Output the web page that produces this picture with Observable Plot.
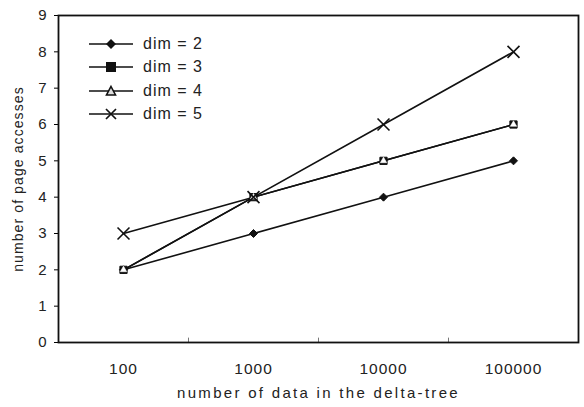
<!DOCTYPE html>
<html><head><meta charset="utf-8">
<script src="https://cdn.jsdelivr.net/npm/d3@7"></script>
<script src="https://cdn.jsdelivr.net/npm/@observablehq/plot@0.6"></script>
<style>
body{margin:0;background:#fff;font-family:"Liberation Sans",Arial,sans-serif;}
#wrap{position:relative;width:584px;height:407px;}
#legend{position:absolute;left:89px;top:32px;font-size:16px;letter-spacing:1px;color:#222;z-index:2;}
#legend .row{display:flex;align-items:center;height:23.5px;}
#legend svg{margin-right:10px;}
g[aria-label="x-axis tick label"] text{letter-spacing:1px;}
g.xtitle text{letter-spacing:2.3px;}
g.ytitle text{letter-spacing:1.1px;}
</style></head>
<body><div id="wrap"><div id="legend"></div></div>
<script>
const sizes = ["100","1000","10000","100000"];
const dim2 = [2,3,4,5];
const dim3 = [2,4,5,6];
const dim4 = [2,4,5,6];
const dim5 = [3,4,6,8];
const seriesNames = ["dim = 2","dim = 3","dim = 4","dim = 5"];
const yTicks = [0,1,2,3,4,5,6,7,8,9];

const rows = [];
[dim2,dim3,dim4,dim5].forEach((arr,i)=>arr.forEach((v,j)=>rows.push({series:seriesNames[i],x:sizes[j],y:v})));
const s = n => rows.filter(d=>d.series===n);

const W=584,H=407,mL=58,mR=6,mT=15,mB=65;
const step=(W-mL-mR)/sizes.length;

const plot = Plot.plot({
  width:W,height:H,marginLeft:mL,marginRight:mR,marginTop:mT,marginBottom:mB,
  style:{fontFamily:"'Liberation Sans',Arial,sans-serif",fontSize:"15px",color:"#222",background:"#fff"},
  x:{type:"point",domain:sizes,padding:0.5,label:null},
  y:{domain:[0,9],label:null},
  marks:[
    Plot.axisX({tickSize:0,tickPadding:20,fontSize:15.5}),
    Plot.axisY({ticks:yTicks,tickSize:4,tickPadding:8,fontSize:15,stroke:"#000"}),
    Plot.text(["number of data in the delta-tree"],{frameAnchor:"bottom",dy:55,fontSize:15,fill:"#222",className:"xtitle"}),
    Plot.text(["number of page accesses"],{frameAnchor:"left",textAnchor:"middle",dx:-40,rotate:-90,fontSize:14,fill:"#222",className:"ytitle"}),
    Plot.ruleX(sizes.slice(1),{y1:0,y2:0.12,dx:-step/2,stroke:"#777",strokeWidth:1}),
    Plot.line(rows,{x:"x",y:"y",z:"series",stroke:"#111",strokeWidth:1.6}),
    Plot.dot(s("dim = 2"),{x:"x",y:"y",symbol:"diamond2",r:3.6,fill:"#111",stroke:"#111",strokeWidth:1}),
    Plot.dot(s("dim = 3"),{x:"x",y:"y",symbol:"square2",r:4.6,fill:"#111",stroke:"#111",strokeWidth:1}),
    Plot.dot(s("dim = 4"),{x:"x",y:"y",symbol:"triangle",r:2.4,fill:"#fff",stroke:"#fff",strokeWidth:0.5}),
    Plot.dot(s("dim = 5"),{x:"x",y:"y",symbol:"times",r:5.5,stroke:"#111",strokeWidth:1.6}),
    Plot.frame({stroke:"#111",strokeWidth:1.8})
  ]
});
document.getElementById("wrap").prepend(plot);
plot.style.position="absolute";plot.style.left="0";plot.style.top="0";

// legend
const sym = {
  "dim = 2":'<path d="M22,6 L27,11 L22,16 L17,11Z" fill="#111"/>',
  "dim = 3":'<rect x="17" y="6" width="10" height="10" fill="#111"/>',
  "dim = 4":'<path d="M22,6.5 L26.5,15 L17.5,15Z" fill="#ddd" stroke="#111" stroke-width="1.6"/>',
  "dim = 5":'<path d="M17,6 L27,16 M27,6 L17,16" stroke="#111" stroke-width="1.7"/>'
};
const lg=document.getElementById("legend");
seriesNames.forEach(n=>{
  const r=document.createElement("div");r.className="row";
  r.innerHTML='<svg width="44" height="22"><line x1="0" x2="44" y1="11" y2="11" stroke="#111" stroke-width="1.7"/>'+sym[n]+'</svg><span>'+n+'</span>';
  lg.appendChild(r);
});
</script></body></html>
